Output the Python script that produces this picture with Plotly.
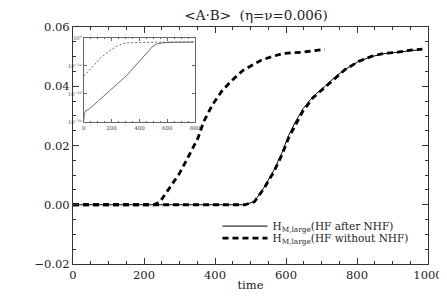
import plotly.graph_objects as go

# ---- main panel data ----
t_nohf = [0, 100, 200, 228, 245, 272, 300, 327, 352, 368, 393, 420, 448, 478, 510, 530, 560, 593, 620, 648, 680, 709]
v_nohf = [0.0, 0.0, 0.0, 0.0, 0.001, 0.0055, 0.0106, 0.0167, 0.0225, 0.028, 0.0338, 0.0385, 0.042, 0.0453, 0.0475,
          0.0488, 0.0500, 0.0511, 0.0513, 0.0515, 0.0520, 0.0525]

t_late = [0, 200, 400, 484, 511, 538, 566, 588, 607, 626, 648, 676, 709, 739, 767, 805, 841, 876, 915, 951, 984]
v_late_dash = [0.0, 0.0, 0.0, 0.0, 0.001, 0.0055, 0.0112, 0.0167, 0.0225, 0.027, 0.0317, 0.0361, 0.0396, 0.043,
               0.0457, 0.0484, 0.0501, 0.0511, 0.0515, 0.0522, 0.0525]
v_late_solid = [0.0, 0.0, 0.0, 0.0, 0.0011, 0.0058, 0.0117, 0.0174, 0.0233, 0.0279, 0.0324, 0.0365, 0.0399, 0.0432,
                0.0457, 0.0484, 0.0500, 0.0510, 0.0515, 0.0521, 0.0524]

# ---- inset data (log10 of the same quantity) ----
ti_dash = [0, 60, 120, 180, 240, 280, 310, 360, 450, 600, 800]
li_dash = [-13.7, -10.5, -7.2, -4.8, -2.9, -2.1, -1.8, -1.65, -1.55, -1.5, -1.45]
ti_solid = [0, 5, 15, 42, 100, 200, 309, 400, 498, 530, 570, 650, 790]
li_solid = [-29.6, -27.0, -26.0, -25.3, -22.7, -18.2, -13.4, -8.3, -2.9, -2.1, -1.75, -1.55, -1.5]

xticks = [0, 200, 400, 600, 800, 1000]
yticks = [-0.02, 0.0, 0.02, 0.04, 0.06]
yticktext = ["\u22120.02", "0.00", "0.02", "0.04", "0.06"]
inset_xticks = [0, 200, 400, 600, 800]
inset_ytickvals = [1e0, 1e-10, 1e-20, 1e-30]
inset_yticktext = ["10<sup>0</sup>", "10<sup>\u221210</sup>", "10<sup>\u221220</sup>", "10<sup>\u221230</sup>"]

FONT = "DejaVu Serif"
label_sub = "<sub>M,large</sub>"

fig = go.Figure()
fig.add_trace(go.Scatter(x=t_late, y=v_late_solid, mode="lines",
                         line=dict(color="black", width=1),
                         name="H" + label_sub + "(HF after NHF)", legend="legend"))
fig.add_trace(go.Scatter(x=t_late, y=v_late_dash, mode="lines",
                         line=dict(color="black", width=2.8, dash="6px,4px"),
                         name="H" + label_sub + "(HF without NHF)", legend="legend2"))
fig.add_trace(go.Scatter(x=t_nohf, y=v_nohf, mode="lines",
                         line=dict(color="black", width=2.8, dash="6px,4px"),
                         showlegend=False))

# inset
fig.add_trace(go.Scatter(x=ti_dash, y=[10 ** v for v in li_dash], mode="lines",
                         line=dict(color="#444", width=0.8, dash="2px,2px"),
                         xaxis="x2", yaxis="y2", showlegend=False))
fig.add_trace(go.Scatter(x=ti_solid, y=[10 ** v for v in li_solid], mode="lines",
                         line=dict(color="#444", width=0.8),
                         xaxis="x2", yaxis="y2", showlegend=False))

axis_common = dict(showgrid=False, zeroline=False, showline=True, mirror="allticks",
                   linecolor="#333", linewidth=1, ticks="inside", tickcolor="#333",
                   ticklen=6, tickfont=dict(family=FONT, size=11.5, color="#222"))

legend_common = dict(xanchor="left", yanchor="middle", bgcolor="rgba(0,0,0,0)",
                     font=dict(family=FONT, size=10.5, color="#222"), itemwidth=45)

fig.update_layout(
    width=447, height=298,
    margin=dict(l=65, r=19, t=19, b=42),
    paper_bgcolor="white", plot_bgcolor="white",
    font=dict(family=FONT, size=12, color="#222"),
    title=dict(text="<A\u00b7B>  (\u03b7=\u03bd=0.006)", x=0.555, xanchor="center", y=0.99, yanchor="top",
               font=dict(family=FONT, size=13.5, color="#222")),
    xaxis=dict(range=[0, 1000], tickvals=xticks, title=dict(text="time", standoff=0,
               font=dict(family=FONT, size=11.5)),
               minor=dict(dtick=50, ticks="inside", ticklen=3, tickcolor="#333"), **axis_common),
    yaxis=dict(range=[-0.02, 0.06], tickvals=yticks, ticktext=yticktext,
               minor=dict(dtick=0.005, ticks="inside", ticklen=3, tickcolor="#333"), **axis_common),
    xaxis2=dict(domain=[0.030, 0.344], anchor="y2", range=[0, 800], tickvals=inset_xticks,
                showgrid=False, zeroline=False, showline=True, mirror="allticks", linecolor="#666",
                linewidth=0.8, ticks="inside", ticklen=3, tickcolor="#666",
                minor=dict(dtick=50, ticks="inside", ticklen=1.5, tickcolor="#666"),
                tickfont=dict(family=FONT, size=5.5, color="#444")),
    yaxis2=dict(domain=[0.599, 0.954], anchor="x2", type="log", range=[-30, 0],
                tickvals=inset_ytickvals, ticktext=inset_yticktext,
                showgrid=False, zeroline=False, showline=True, mirror="allticks", linecolor="#666",
                linewidth=0.8, ticks="inside", ticklen=3, tickcolor="#666",
                tickfont=dict(family=FONT, size=5, color="#444")),
    legend=dict(x=0.407, y=0.16, **legend_common),
    legend2=dict(x=0.407, y=0.109, **legend_common),
    showlegend=True,
)

fig.write_html("out.html")
